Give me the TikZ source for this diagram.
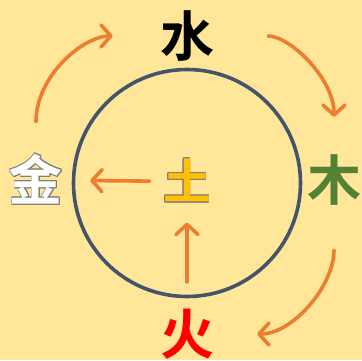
\documentclass[tikz,border=0pt]{standalone}
\usepackage{fontspec}
\usepackage{contour}
\usepackage{tikz}
\usetikzlibrary{arrows.meta}
\newfontfamily\cjk{Noto Sans CJK SC Bold}
\definecolor{paper}{HTML}{FFE699}
\definecolor{flowc}{HTML}{ED7D31}
\definecolor{ringc}{HTML}{44546A}
\definecolor{woodc}{HTML}{548235}
\definecolor{earthc}{HTML}{FFC000}
\contourlength{0.8pt}

\begin{document}
\begin{tikzpicture}[
    x=1pt, y=1pt,
    element/.style={inner sep=0pt, text height=47.5pt, text depth=6.5pt, font=\cjk\fontsize{54}{54}\selectfont},
    center element/.style={inner sep=0pt, text height=42.2pt, text depth=5.8pt, font=\cjk\fontsize{48}{48}\selectfont},
    flow/.style={draw=flowc, line width=3.6pt, line cap=round, -{Straight Barb[length=10pt, width=22pt, line cap=round, line join=round]}},
    ring/.style={draw=ringc, line width=3.6pt}
]

    \fill[paper] (0,0) rectangle (362,360);
    \useasboundingbox (0,0) rectangle (362,360);

    % --- the ring
    \node[ring, circle, minimum size=227pt, inner sep=0pt] (ring) at (187,177) {};

    % --- the five elements
    \node[element] (water) at (187,324) {水};
    \node[element, text=woodc] (wood) at (334,180) {木};
    \node[element, text=red] (fire) at (187,26) {火};
    \node[element] (metal) at (36,180) {\contour{gray}{\textcolor{white}{金}}};
    \node[center element] (earth) at (187,178.5) {\contour{gray}{\textcolor{earthc}{土}}};

    % --- outer cycle
    \draw[flow, shorten <=31pt, shorten >=47pt, looseness=1.15] (metal) to[out=90, in=180] (water);
    \draw[flow, shorten <=54pt, shorten >=36pt, looseness=1.15] (water) to[out=0, in=90] (wood);
    \draw[flow, shorten <=43pt, shorten >=43pt, looseness=1.15] (wood) to[out=-90, in=0] (fire);

    % --- inner arrows
    \draw[flow, shorten <=13pt, shorten >=27pt] (earth) -- (metal);
    \draw[flow, shorten <=25pt, shorten >=17pt] (fire) -- (earth);

\end{tikzpicture}
\end{document}
